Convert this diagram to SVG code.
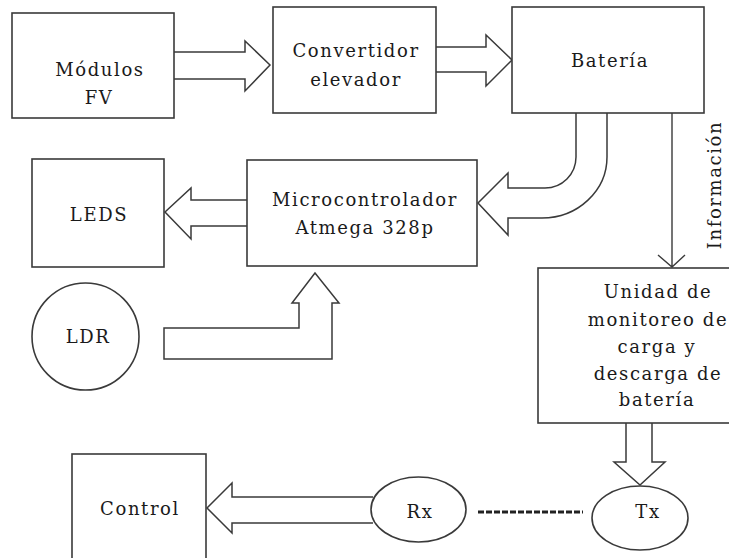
<svg xmlns="http://www.w3.org/2000/svg" width="729" height="558" viewBox="0 0 729 558">
<style>
.box{fill:#fff;stroke:#3a3a3a;stroke-width:1.6}
.arr{fill:#fff;stroke:#3a3a3a;stroke-width:1.5;stroke-linejoin:miter}
.ln{fill:none;stroke:#3a3a3a;stroke-width:1.4}
.t{font-family:"DejaVu Serif","Liberation Serif",serif;font-size:18px;fill:#1a1a1a;text-anchor:middle;letter-spacing:1.6px}
</style>
<rect width="729" height="558" fill="#fff"/>
<g id="connectors">
<path class="arr" d="M174,52 L245,52 L245,41 L270,65 L245,91 L245,79 L174,79"/>
<path class="arr" d="M436,47 L486,47 L486,35 L512,60 L486,86 L486,72 L436,72"/>
<path class="arr" d="M576,113 L576,157 A31,31 0 0 1 545,188 L508,188 L508,173 L478,203 L508,235 L508,218 L542,218 A65,61 0 0 0 607,157 L607,113"/>
<path class="arr" d="M247,200 L191,200 L191,188 L165,212 L191,239 L191,226 L247,226"/>
<path class="arr" d="M164,328 L299,328 L299,303 L292,303 L315,273 L339,303 L332,303 L332,359 L164,359 Z"/>
<path class="ln" d="M672,113 L672,267 M658,255 L672,267 L685,255"/>
<path class="arr" d="M626,423 L626,462 L614,462 L640,485 L665,462 L652,462 L652,423"/>
<path class="arr" d="M373,497 L232,497 L232,483 L207,508 L232,533 L232,523 L373,523"/>
<line x1="478" y1="512" x2="583" y2="512" stroke="#222" stroke-width="3" stroke-dasharray="6,2"/>
<text class="t" transform="translate(721,185) rotate(-90)">Información</text>
</g>
<g id="modulos">
<rect class="box" x="12" y="13" width="162" height="105"/>
<text class="t" x="100" y="76">Módulos</text>
<text class="t" x="99" y="104">FV</text>
</g>
<g id="convertidor">
<rect class="box" x="273" y="7" width="163" height="106"/>
<text class="t" x="356" y="57">Convertidor</text>
<text class="t" x="356" y="86">elevador</text>
</g>
<g id="bateria">
<rect class="box" x="512" y="7" width="192" height="106"/>
<text class="t" x="610" y="67">Batería</text>
</g>
<g id="leds">
<rect class="box" x="32" y="159" width="132" height="108"/>
<text class="t" x="99" y="221">LEDS</text>
</g>
<g id="micro">
<rect class="box" x="247" y="160" width="230" height="106"/>
<text class="t" x="365" y="206">Microcontrolador</text>
<text class="t" x="365" y="234">Atmega 328p</text>
</g>
<g id="ldr">
<circle class="box" cx="85.5" cy="336.5" r="53.5"/>
<text class="t" x="88" y="343">LDR</text>
</g>
<g id="unidad">
<rect class="box" x="538" y="268" width="200" height="155"/>
<text class="t" x="658" y="298">Unidad de</text>
<text class="t" x="658" y="326">monitoreo de</text>
<text class="t" x="657" y="353">carga y</text>
<text class="t" x="658" y="380">descarga de</text>
<text class="t" x="657" y="406">batería</text>
</g>
<g id="control">
<rect class="box" x="72" y="454" width="134" height="110"/>
<text class="t" x="140" y="515">Control</text>
</g>
<g id="rx">
<ellipse class="box" cx="418.5" cy="509.5" rx="47.5" ry="32.5"/>
<text class="t" x="420" y="518">Rx</text>
</g>
<g id="tx">
<ellipse class="box" cx="640" cy="518" rx="48" ry="32"/>
<text class="t" x="648" y="518">Tx</text>
</g>
</svg>
